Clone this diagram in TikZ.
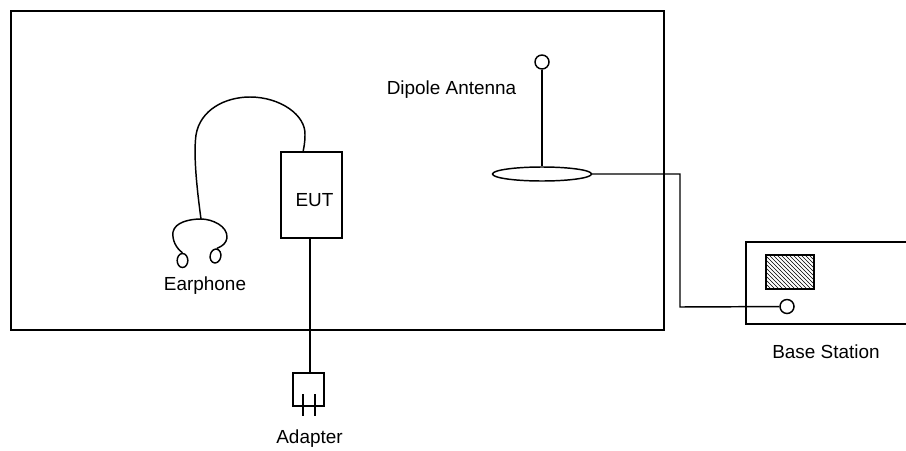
\documentclass[tikz,border=0pt]{standalone}
\usepackage{fontspec}
\setmainfont{Liberation Sans}
\usetikzlibrary{arrows, shapes, positioning, patterns}

\begin{document}
\begin{tikzpicture}[
            x = 0.75pt, % one unit is one pixel
            y = -0.75pt,
            line width = 1.1pt, % line style
            node distance = 8pt,% distance between nodes
            font = \fontsize{14.2}{17}\selectfont,
        ]
 \tikzstyle{boxstyle}=[
 			 shape = rectangle,
            draw = black,
            inner sep = 0pt
        ]
 \tikzstyle{ringstyle}=[
 			 shape = circle,
            draw = black,
            fill = white,
            inner sep = 0pt,
            minimum size = 10.5pt
        ]
 \tikzstyle{earstyle}=[
 			 shape = ellipse,
            draw = black,
            fill = white,
            inner sep = 0pt,
            minimum width = 8pt,
            minimum height = 10.5pt
        ]
 \tikzstyle{labelstyle}=[
            inner sep = 0pt
        ]
\path[use as bounding box, clip] (0,0) rectangle (906,450);
% room and its contents
\node[boxstyle, minimum width=489.75pt, minimum height=239.25pt](room) at (337.5,170.5){};
\node[boxstyle, minimum width=45.75pt, minimum height=64.5pt](eut) at (311.5,195){};
\node[labelstyle](eutlabel) at (314.5,200){EUT};
% antenna
\node[shape=ellipse, draw=black, fill=white, inner sep=0pt, minimum width=74.25pt, minimum height=10.5pt](dish) at (542,174){};
\node[ringstyle](tip) at (542,62){};
\node[labelstyle](dipole) at (451.5,90){Dipole Antenna};
\draw (tip) -- (dish);
% base station
\node[boxstyle, minimum width=142.5pt, minimum height=61.5pt](base) at (841,283){};
\node[boxstyle, pattern=north west lines, minimum width=36pt, minimum height=25.5pt](screen) at (790,272){};
\node[ringstyle](socket) at (787,306.5){};
\node[labelstyle](baselabel) at (826,351.5){Base Station};
\coordinate (bend1) at (680,174);
\coordinate (bend2) at (680,307);
\draw (dish.east) -- (bend1) -- (bend2) -- (socket);
% earphone
\node[earstyle](earL) at (182.5,260.5){};
\node[earstyle, rotate=-10](earR) at (215.5,256){};
\node[labelstyle](earphone) at (205,286){Earphone};
\coordinate (band) at (201,219);
\coordinate (wire) at (303,152);
\draw (earL.north) .. controls (176,248) and (172,240) .. (173,232) .. controls (175,222) and (190,219) .. (band) .. controls (212,219) and (228,226) .. (227,238) .. controls (226,243) and (223,246) .. (earR.north);
\draw (band) .. controls (195,175) and (194,150) .. (196,135) .. controls (200,110) and (225,97) .. (250,97) .. controls (280,97) and (306,115) .. (305,135) .. controls (305,142) and (304,147) .. (wire);
% adapter
\node[boxstyle, minimum width=23.25pt, minimum height=24.75pt](adapter) at (308.5,389.5){};
\coordinate (plug) at (310,373);
\coordinate (pin1a) at (303,394);
\coordinate (pin1b) at (303,416);
\coordinate (pin2a) at (315,394);
\coordinate (pin2b) at (315,416);
\node[labelstyle](adapterlabel) at (309.5,439){Adapter};
\draw (eut.south -| plug) -- (plug);
\draw (pin1a) -- (pin1b);
\draw (pin2a) -- (pin2b);
\end{tikzpicture}
\end{document}
